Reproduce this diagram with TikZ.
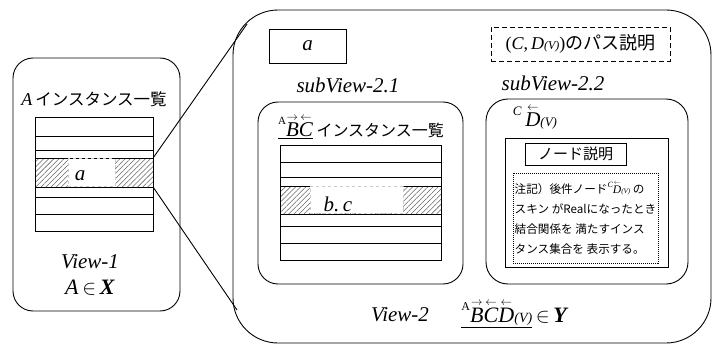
\documentclass[tikz,border=0pt]{standalone}
\usepackage{fontspec}
\setmainfont{Liberation Serif}
\newfontfamily\jp{Noto Sans CJK JP}
\usetikzlibrary{patterns.meta}

\newcommand{\rv}[1]{\ooalign{#1\cr\hidewidth\raisebox{0.76em}{\scalebox{0.55}{$\rightarrow$}}\hidewidth\cr}}
\newcommand{\lv}[1]{\ooalign{#1\cr\hidewidth\raisebox{0.76em}{\scalebox{0.55}{$\leftarrow$}}\hidewidth\cr}}

\begin{document}
\begin{tikzpicture}[x=1pt,y=-1pt,line width=0.9pt,
  roundbox/.style={draw,rounded corners=#1,inner sep=0pt},
  box/.style={draw,inner sep=0pt},
  row/.style={draw,pattern={Lines[angle=45,distance=3.6pt,line width=0.55pt]},pattern color=black!60,inner sep=0pt},
  hole/.style={fill=white,draw=gray!40,dashed,line width=0.6pt,inner sep=0pt},
  ttl/.style={font=\fontsize{21}{24}\selectfont\itshape,inner sep=0pt},
  jpt/.style={font=\fontsize{15}{18}\selectfont\jp,inner sep=0pt}]

\useasboundingbox (0,0) rectangle (715,345);

% View-1
\node[roundbox=20pt,minimum width=167,minimum height=253](view1) at(96.5,184.5){};
\node[inner sep=0pt](titleA) at(94,99){\fontsize{18}{20}\selectfont\textit{A}\,{\jp\fontsize{16.5}{18}\selectfont インスタンス一覧}};
\node[box,minimum width=118,minimum height=114](tabA) at(94,174){};
\foreach \y in {136,150,197,214}
  \draw[line width=0.8pt](35,\y)--++(118,0);
\node[row,minimum width=118,minimum height=29](selA) at(94,172.5){};
\node[hole,minimum width=47,minimum height=28](holeA) at(91.5,172.5){};
\node[ttl](keyA) at(80,176){a};
\node[ttl](v1) at(90,262){View-1};
\node[font=\fontsize{22}{24}\selectfont,inner sep=0pt](setX) at(90,288){\textit{A}\,$\in$\,\textbf{\textit{X}}};

% View-2
\node[roundbox=45pt,minimum width=478,minimum height=333](view2) at(472,176.5){};
\coordinate (zt) at(247,24);
\coordinate (zb) at(237,310);
\draw(selA.north east)--(zt);
\draw(selA.south east)--(zb);

\node[box,minimum width=77,minimum height=34,font=\fontsize{21}{24}\selectfont\itshape](keyBox) at(307.5,46){a};
\node[box,dashed,dash pattern=on 5pt off 3pt,minimum width=179,minimum height=34](pathBox) at(580.5,44)
  {\fontsize{18}{20}\selectfont(\textit{C},\,\textit{D}{\fontsize{12}{12}\selectfont\textit{(V)}}){\jp のパス説明}};
\node[ttl](sv21) at(348,85){subView-2.1};
\node[ttl](sv22) at(553,83){subView-2.2};

% subView-2.1
\node[roundbox=20pt,minimum width=205,minimum height=182](sub21) at(360.5,193){};
\node[inner sep=0pt](titleB) at(361,128){\fontsize{21}{22}\selectfont\underline{\raisebox{0.55em}{\fontsize{11}{11}\selectfont A}\rv{\textit{B}}\lv{\textit{C}}}\,{\jp\fontsize{16}{18}\selectfont インスタンス一覧}};
\node[box,minimum width=161,minimum height=115](tabB) at(360.5,202.5){};
\foreach \y in {162,177,226,243}
  \draw[line width=0.8pt](280,\y)--++(161,0);
\node[row,minimum width=161,minimum height=28](selB) at(360.5,200){};
\node[hole,minimum width=93,minimum height=27](holeB) at(356.5,199.5){};
\node[ttl](keyB) at(338,204){b.\,c};

% subView-2.2
\node[roundbox=22pt,minimum width=202,minimum height=185](sub22) at(587,191.5){};
\node[inner sep=0pt](titleC) at(535,118){\fontsize{21}{22}\selectfont\raisebox{0.55em}{\fontsize{13}{13}\selectfont\textit{C}}\,\lv{\textit{D}}{\fontsize{13}{13}\selectfont\textit{(V)}}};
\node[box,minimum width=163,minimum height=129](descBox) at(586.5,202.5){};
\node[box,minimum width=101,minimum height=22,jpt](nodeDesc) at(575.5,154){ノード説明};
\node[draw,dash pattern=on 1pt off 1pt,line width=0.7pt,minimum width=145,minimum height=90,inner sep=0pt](noteBox) at(585.5,218){};
\node[font=\fontsize{11.6}{20}\selectfont\jp,align=left,inner sep=0pt](note) at(noteBox.center)
  {注記）後件ノード{\rmfamily\raisebox{0.5em}{\fontsize{8}{8}\selectfont\textit{C}}\lv{\textit{D}}{\fontsize{7}{7}\selectfont\textit{(V)}}} の\\
   スキン がRealになったとき\\
   結合関係を 満たすインス\\
   タンス集合を 表示する。};

\node[ttl](v2) at(400,315){View-2};
\node[font=\fontsize{22}{24}\selectfont,inner sep=0pt](setY) at(515,315)
  {\underline{\raisebox{0.55em}{\fontsize{12}{12}\selectfont A}\rv{\textit{B}}\lv{\textit{C}}\lv{\textit{D}}{\fontsize{14}{14}\selectfont\textit{(V)}}}\,$\in$\,\textbf{\textit{Y}}};
\end{tikzpicture}
\end{document}
